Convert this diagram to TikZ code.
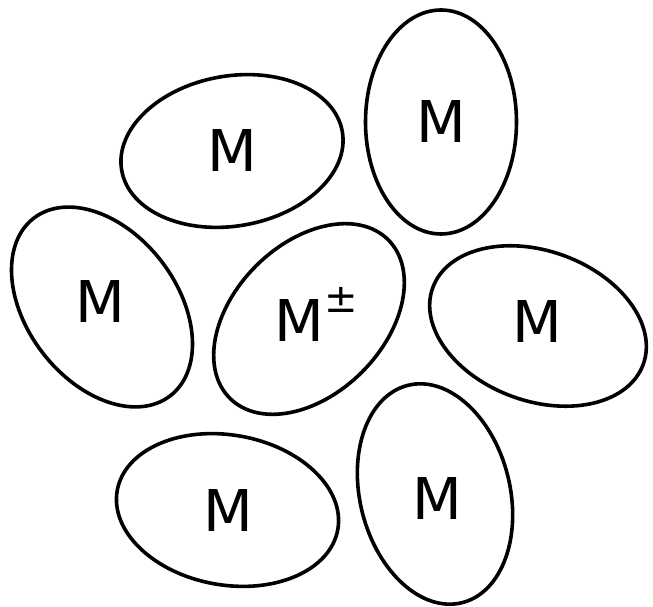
\documentclass[tikz,border=0pt]{standalone}
\usepackage{fontspec}
\setmainfont{DejaVu Sans}
\begin{document}
\begin{tikzpicture}[x=1pt,y=1pt,
  blob/.style={draw=black,line width=3.6pt},
  lbl/.style={inner sep=0pt,anchor=base,font=\fontsize{57.6}{60}\selectfont}]
\useasboundingbox (0,0) rectangle (653,607);
% ellipses
\draw[blob,shift={(232,456)},rotate=10]    (0,0) ellipse [x radius=112,y radius=75];
\draw[blob,shift={(441,485)},rotate=90]    (0,0) ellipse [x radius=112,y radius=75.5];
\draw[blob,shift={(538,281)},rotate=-20]   (0,0) ellipse [x radius=112,y radius=75];
\draw[blob,shift={(102,300)},rotate=127.5] (0,0) ellipse [x radius=112,y radius=75];
\draw[blob,shift={(309,288)},rotate=45]    (0,0) ellipse [x radius=112,y radius=75];
\draw[blob,shift={(227.5,97)},rotate=-10]  (0,0) ellipse [x radius=112,y radius=75];
\draw[blob,shift={(435,113)},rotate=104]   (0,0) ellipse [x radius=112,y radius=75];
% labels
\node[lbl] (m1) at (232,435) {M};
\node[lbl] (m2) at (441,464) {M};
\node[lbl] (m3) at (537.5,264) {M};
\node[lbl] (m4) at (100,284) {M};
\node[lbl] (m5) at (316,265) {M\raisebox{29pt}{\fontsize{40}{40}\selectfont ±}};
\node[lbl] (m6) at (228,75) {M};
\node[lbl] (m7) at (437,87) {M};
\end{tikzpicture}
\end{document}
